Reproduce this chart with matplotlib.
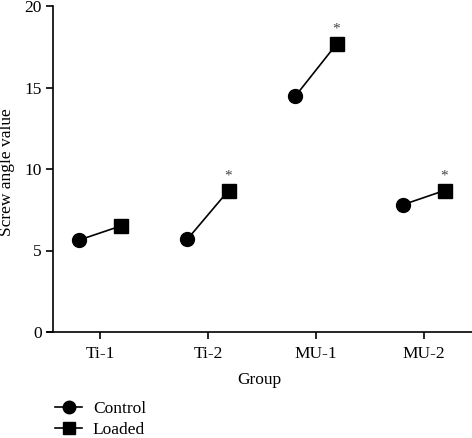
import matplotlib
matplotlib.use("Agg")
import matplotlib.pyplot as plt
import numpy as np

categories = ["Ti-1", "Ti-2", "MU-1", "MU-2"]
control = [5.65, 5.7, 14.48, 7.82]
loaded = [6.5, 8.68, 17.66, 8.68]
significant = [False, True, True, True]

plt.rcParams['font.family'] = ['Liberation Serif', 'DejaVu Serif']
FS = 12.5

W, H = 472, 438
fig = plt.figure(figsize=(W/100, H/100), dpi=100)
ax_left, ax_right = 47, 472
ax_bottom, ax_top = 332, 6
ax = fig.add_axes([ax_left/W, (H-ax_bottom)/H, (ax_right-ax_left)/W, (ax_bottom-ax_top)/H])

x = np.arange(len(categories))
off = 0.19
for i in range(len(categories)):
    ax.plot([x[i]-off, x[i]+off], [control[i], loaded[i]], color='black', lw=1.2, zorder=1)
ax.plot(x-off, control, 'o', color='black', markersize=10, zorder=2)
ax.plot(x+off, loaded, 's', color='black', markersize=9.5, zorder=2)
for i in range(len(categories)):
    if significant[i]:
        ax.annotate('*', (x[i]+off, loaded[i]), xytext=(0, 6), textcoords='offset points',
                    ha='center', va='bottom', fontsize=11, color='#444444')

ax.set_xlim(-53/108, 3 + 48/108)
ax.set_ylim(0, 20)
ax.set_yticks([0, 5, 10, 15, 20])
ax.set_xticks(x)
ax.set_xticklabels(categories)
for s in ['top', 'right']:
    ax.spines[s].set_visible(False)
ax.spines['left'].set_position(('axes', 6/(ax_right-ax_left)))
for s in ['left', 'bottom']:
    ax.spines[s].set_linewidth(1.2)
ax.tick_params(axis='both', labelsize=FS, width=1.2, length=5, pad=3)
ax.tick_params(axis='x', pad=5)
ax.set_ylabel('Screw angle value', fontsize=FS)
ax.yaxis.set_label_coords((7-ax_left)/(ax_right-ax_left), 0.49)
ax.yaxis.label.set_verticalalignment('center')
ax.set_xlabel('Group', fontsize=FS, labelpad=7)

hc2 = plt.Line2D([], [], color='black', marker='o', markersize=9, lw=1.2)
hl2 = plt.Line2D([], [], color='black', marker='s', markersize=8.5, lw=1.2)
fig.legend([hc2, hl2], ['Control', 'Loaded'], loc='lower left',
           bbox_to_anchor=(46/W, -9/H), frameon=False, fontsize=FS,
           handlelength=1.6, handletextpad=0.6, labelspacing=0.3, borderpad=0)

fig.savefig('out.png', dpi=100)
